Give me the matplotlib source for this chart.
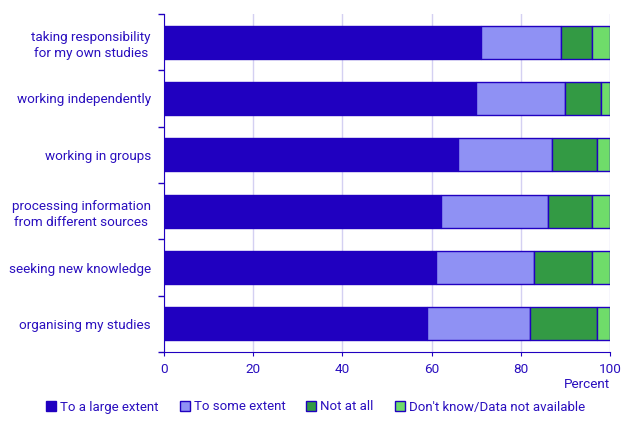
import matplotlib
matplotlib.use("Agg")
import matplotlib.pyplot as plt
import numpy as np

plt.rcParams['font.family'] = ['Roboto', 'DejaVu Sans']

categories = [
    "taking responsibility\nfor my own studies",
    "working independently",
    "working in groups",
    "processing information\nfrom different sources",
    "seeking new knowledge",
    "organising my studies",
]
large_extent = [71, 70, 66, 62, 61, 59]
some_extent = [18, 20, 21, 24, 22, 23]
not_at_all = [7, 8, 10, 10, 13, 15]
dont_know = [4, 2, 3, 4, 4, 3]
series_names = ["To a large extent", "To some extent", "Not at all",
                "Don't know/Data not available"]
x_ticks = [0, 20, 40, 60, 80, 100]

txt = "#2a0fbf"
edge = "#2000c0"
colors = ["#2000c0", "#8f91f4", "#339a44", "#6fdc6a"]
fs = 9.7

fig = plt.figure(figsize=(6.36, 4.22), dpi=100)
ax = fig.add_axes([164 / 636, 1 - 352 / 422, 446 / 636, 338 / 422])

y = np.arange(len(categories))
left = np.zeros(len(categories))
for vals, col, name in zip([large_extent, some_extent, not_at_all, dont_know],
                           colors, series_names):
    ax.barh(y, vals, left=left, height=0.585, color=col, edgecolor=edge,
            linewidth=1, label=name, zorder=3)
    left += np.array(vals)

ax.set_xlim(0, 100)
ax.set_ylim(len(categories) - 0.5, -0.5)
ax.set_xticks(x_ticks)
ax.set_yticks(y)
ax.set_yticklabels(categories, color=txt, fontsize=fs, ha="right",
                   multialignment="center", linespacing=1.3)
ax.set_yticks(np.arange(-0.5, len(categories), 1), minor=True)
ax.tick_params(axis="y", which="major", length=0, pad=9.5)
ax.tick_params(axis="y", which="minor", length=4, color=edge, width=1)
ax.tick_params(axis="x", length=3, color=edge, labelcolor=txt, labelsize=fs, pad=5)
ax.xaxis.grid(True, color="#d4d0f2", linewidth=1, zorder=0)

for s in ["top", "right"]:
    ax.spines[s].set_visible(False)
for s in ["left", "bottom"]:
    ax.spines[s].set_color(edge)
    ax.spines[s].set_zorder(4)

fig.text(610 / 636, 1 - 385 / 422, "Percent", color=txt, fontsize=fs,
         ha="right", va="center")

leg = fig.legend(loc="center", bbox_to_anchor=(0.496, 1 - 407 / 422), ncol=4,
                 frameon=False, fontsize=9.5, handlelength=0.75, handleheight=0.75,
                 handletextpad=0.3, columnspacing=1.6)
for t in leg.get_texts():
    t.set_color(txt)

fig.savefig("out.png", dpi=100)
